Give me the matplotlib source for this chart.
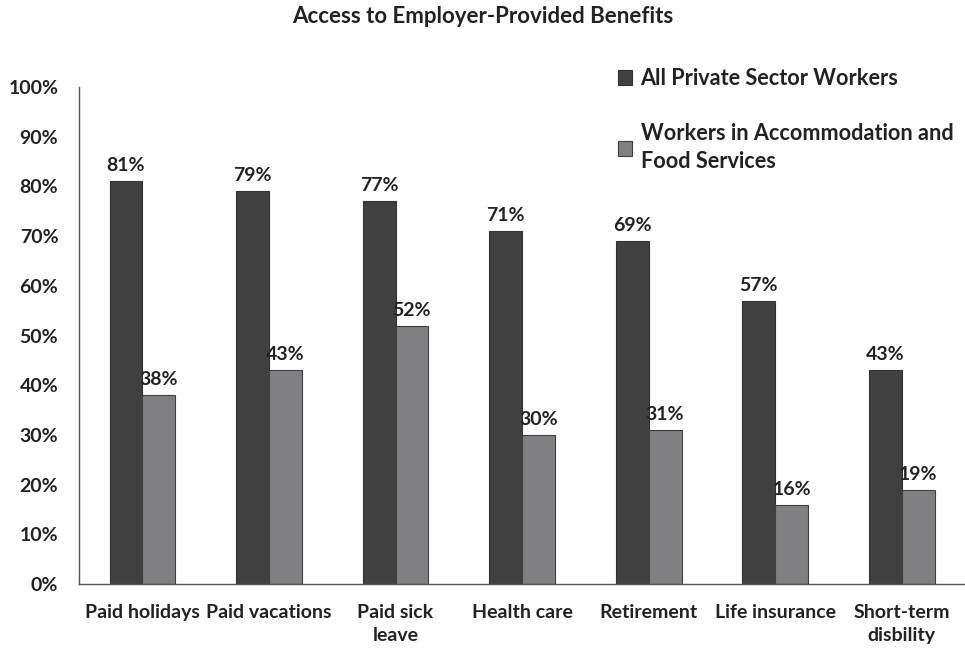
import numpy as np
import matplotlib.pyplot as plt

categories = ['Paid holidays', 'Paid vacations', 'Paid sick\nleave', 'Health care',
              'Retirement', 'Life insurance', 'Short-term\ndisbility']
all_private = [81, 79, 77, 71, 69, 57, 43]
accommodation = [38, 43, 52, 30, 31, 16, 19]
series_names = ['All Private Sector Workers', 'Workers in Accommodation and\nFood Services']

plt.rcParams['font.family'] = ['Lato', 'DejaVu Sans']
plt.rcParams['font.weight'] = 'bold'

fig = plt.figure(figsize=(9.65, 6.49), dpi=100)
ax = fig.add_axes([0.082, 0.1, 0.918, 0.766])

x = np.arange(len(categories))
w = 0.26
b1 = ax.bar(x - w / 2, all_private, w, color='#404040', edgecolor='#333333', linewidth=0.8,
            label=series_names[0])
b2 = ax.bar(x + w / 2, accommodation, w, color='#808083', edgecolor='#404040', linewidth=0.8,
            label=series_names[1])

for bars in (b1, b2):
    for r in bars:
        ax.annotate(f'{int(r.get_height())}%', (r.get_x() + r.get_width() / 2, r.get_height()),
                    xytext=(0, 5), textcoords='offset points', ha='center', va='bottom',
                    fontsize=14, fontweight='bold', color='#222222')

ax.set_xlim(-0.5, len(categories) - 0.5)
ax.set_ylim(0, 100)
ax.set_yticks(range(0, 101, 10))
ax.set_yticklabels([f'{v}%' for v in range(0, 101, 10)])
ax.set_xticks(x)
ax.set_xticklabels(categories, linespacing=1.45)
ax.tick_params(axis='both', length=0, labelsize=14, colors='#222222')
ax.tick_params(axis='y', pad=15)
ax.tick_params(axis='x', pad=14)
for s in ('top', 'right'):
    ax.spines[s].set_visible(False)
for s in ('left', 'bottom'):
    ax.spines[s].set_color('#555555')
    ax.spines[s].set_linewidth(1)

fig.suptitle('Access to Employer-Provided Benefits', y=0.99, fontsize=16, fontweight='bold',
             color='#222222')

leg = fig.legend(loc='upper left', bbox_to_anchor=(0.62, 0.925), frameon=False,
                 fontsize=15.6, handlelength=0.65, handleheight=0.65, handletextpad=0.4,
                 labelspacing=1.55, labelcolor='#222222')
for t in leg.get_texts():
    t.set_linespacing(1.45)

fig.savefig('out.png', dpi=100)
